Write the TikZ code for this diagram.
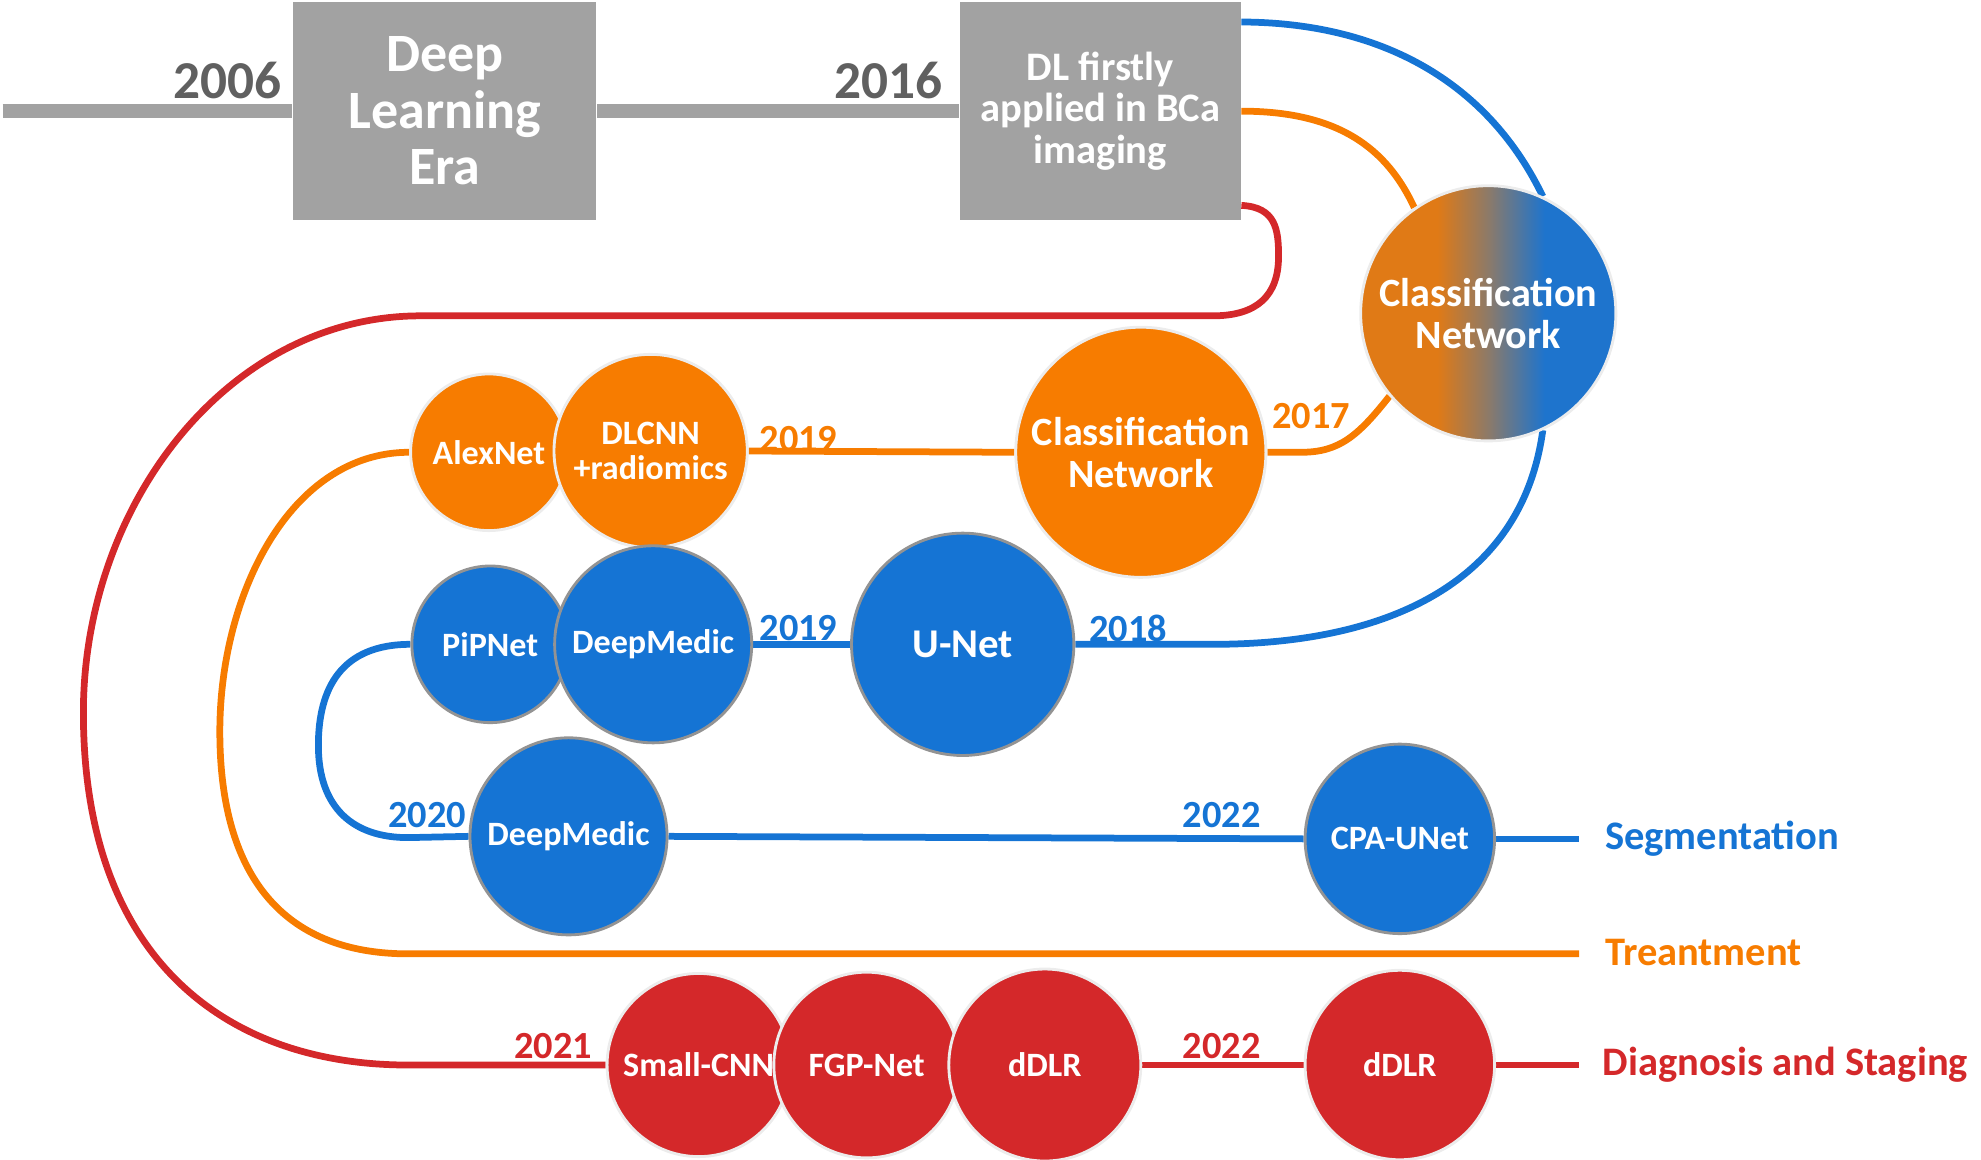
\documentclass[tikz,border=0pt]{standalone}
\usepackage{fontspec}
\setmainfont{Carlito}
\usetikzlibrary{backgrounds,calc}

\definecolor{cblue}{RGB}{21,116,212}
\definecolor{corange}{RGB}{247,124,0}
\definecolor{cred}{RGB}{212,40,42}
\definecolor{cgray}{RGB}{162,162,162}
\definecolor{cyear}{RGB}{96,96,96}
\definecolor{gorange}{RGB}{224,122,22}
\definecolor{gmid}{RGB}{140,122,105}
\definecolor{gblue}{RGB}{30,116,205}
\pgfdeclarehorizontalshading{cnshade}{100bp}{color(0bp)=(gorange); color(40bp)=(gorange); color(50bp)=(gmid); color(61bp)=(gblue); color(100bp)=(gblue)}

\tikzset{
  model/.style={circle, inner sep=0pt, minimum size=#1*0.0125cm, text=white, align=center, font=\bfseries\fontsize{9.6}{9.9}\selectfont},
  bluec/.style={fill=cblue, draw=gray!85, line width=0.8pt},
  orangec/.style={fill=corange, draw=gray!15, line width=0.8pt},
  redc/.style={fill=cred, draw=gray!15, line width=0.8pt},
  era/.style={fill=cgray, text=white, align=center, inner sep=0pt, minimum height=2.15cm},
  year/.style={anchor=base, inner sep=0pt, font=\bfseries\fontsize{10.8}{11}\selectfont},
  track/.style={line width=1.9pt},
  field/.style={anchor=west, inner sep=0pt, font=\bfseries\fontsize{11.4}{12}\selectfont},
}

\begin{document}
\begin{tikzpicture}[x=0.0125cm, y=-0.0125cm]
\useasboundingbox (0,0) rectangle (1568,918);

% timeline
\node[era, minimum width=3cm, font=\bfseries\fontsize{15.2}{15.9}\selectfont] (dle) at (352,88) {Deep\\Learning\\Era};
\node[era, minimum width=2.775cm, font=\bfseries\fontsize{11.4}{11.8}\selectfont] (first) at (871,88) {DL firstly\\applied in BCa\\imaging};
\node[year, text=cyear, font=\bfseries\fontsize{15}{15}\selectfont] at (180,78) {2006};
\node[year, text=cyear, font=\bfseries\fontsize{15}{15}\selectfont] at (703,78) {2016};
\coordinate (t0) at (2,88);

% networks
\node[model=202, shade, shading=cnshade, draw=gray!15, line width=0.8pt, font=\bfseries\fontsize{11.3}{11.8}\selectfont] (cnet) at (1178,248) {Classification\\Network};
\node[model=198, orangec, font=\bfseries\fontsize{11.3}{11.8}\selectfont] (cls) at (903,358) {Classification\\Network};
\node[model=124, orangec] (alex) at (387,358) {AlexNet};
\node[model=153, orangec] (dlcnn) at (515,357) {DLCNN\\+radiomics};
\node[model=124, bluec] (pip) at (388,510) {PiPNet};
\node[model=156, bluec] (dm) at (517,510) {DeepMedic};
\node[model=176, bluec, font=\bfseries\fontsize{11.5}{12}\selectfont] (unet) at (762,510) {U-Net};
\node[model=156, bluec] (dmb) at (450,662) {DeepMedic};
\node[model=150, bluec] (cpa) at (1108,664) {CPA-UNet};
\node[model=145, redc] (scnn) at (553,843) {Small-CNN};
\node[model=147, redc] (fgp) at (686,843) {FGP-Net};
\node[model=152, redc] (ddlr) at (827,843) {dDLR};
\node[model=150, redc] (ddlrb) at (1108,843) {dDLR};

% fields
\node[field, text=cblue] (seg) at (1270,664) {Segmentation};
\node[field, text=corange] (treat) at (1270,754) {Treantment};
\node[field, text=cred] (diag) at (1268,843) {Diagnosis and Staging};
\coordinate (segend) at (1250,664);
\coordinate (treatend) at (1250,755);
\coordinate (diagend) at (1250,843);

% years
\node[year, text=corange] at (632,357) {2019};
\node[year, text=corange] at (1038,339) {2017};
\node[year, text=cblue] at (632,507) {2019};
\node[year, text=cblue] at (893,508) {2018};
\node[year, text=cblue] at (338,655) {2020};
\node[year, text=cblue] at (967,655) {2022};
\node[year, text=cred] at (438,838) {2021};
\node[year, text=cred] at (967,838) {2022};

\begin{scope}[on background layer]
\draw[cgray, line width=3.9pt] (t0) -- (dle.west);
\draw[cgray, line width=3.9pt] (dle.east) -- (first.west);

% segmentation
\draw[track, cblue] ($(first.north east)+(0,16)$) .. controls (1100,18) and (1180,70) .. (cnet.65);
\draw[track, cblue] (cnet.-65) .. controls (1205,460) and (1100,510) .. (960,510) -- (unet.east);
\draw[track, cblue] (unet.west) -- (dm.east);
\draw[track, cblue] (pip.west) .. controls (270,510) and (252,545) .. (252,590) .. controls (252,640) and (280,663) .. (323,663) -- (dmb.west);
\draw[track, cblue] (dmb.east) -- (cpa.west);
\draw[track, cblue] (cpa.east) -- (segend);

% treatment
\draw[track, corange] (first.east) .. controls (1060,88) and (1098,118) .. (cnet.125);
\draw[track, corange] (cnet.-140) .. controls (1075,345) and (1060,358) .. (1030,358) -- (cls.east);
\draw[track, corange] (cls.west) -- (dlcnn.east);
\draw[track, corange] (alex.west) .. controls (230,358) and (174,470) .. (174,579) .. controls (174,700) and (230,755) .. (323,755) -- (treatend);

% diagnosis
\draw[track, cred] ($(first.south east)+(0,-12)$) .. controls (1010,164) and (1012,182) .. (1012,203) .. controls (1012,234) and (995,250) .. (960,250) -- (333,250) .. controls (180,250) and (66,400) .. (66,564) .. controls (66,760) and (180,843) .. (323,843) -- (scnn.west);
\draw[track, cred] (ddlr.east) -- (ddlrb.west);
\draw[track, cred] (ddlrb.east) -- (diagend);
\end{scope}
\end{tikzpicture}
\end{document}
